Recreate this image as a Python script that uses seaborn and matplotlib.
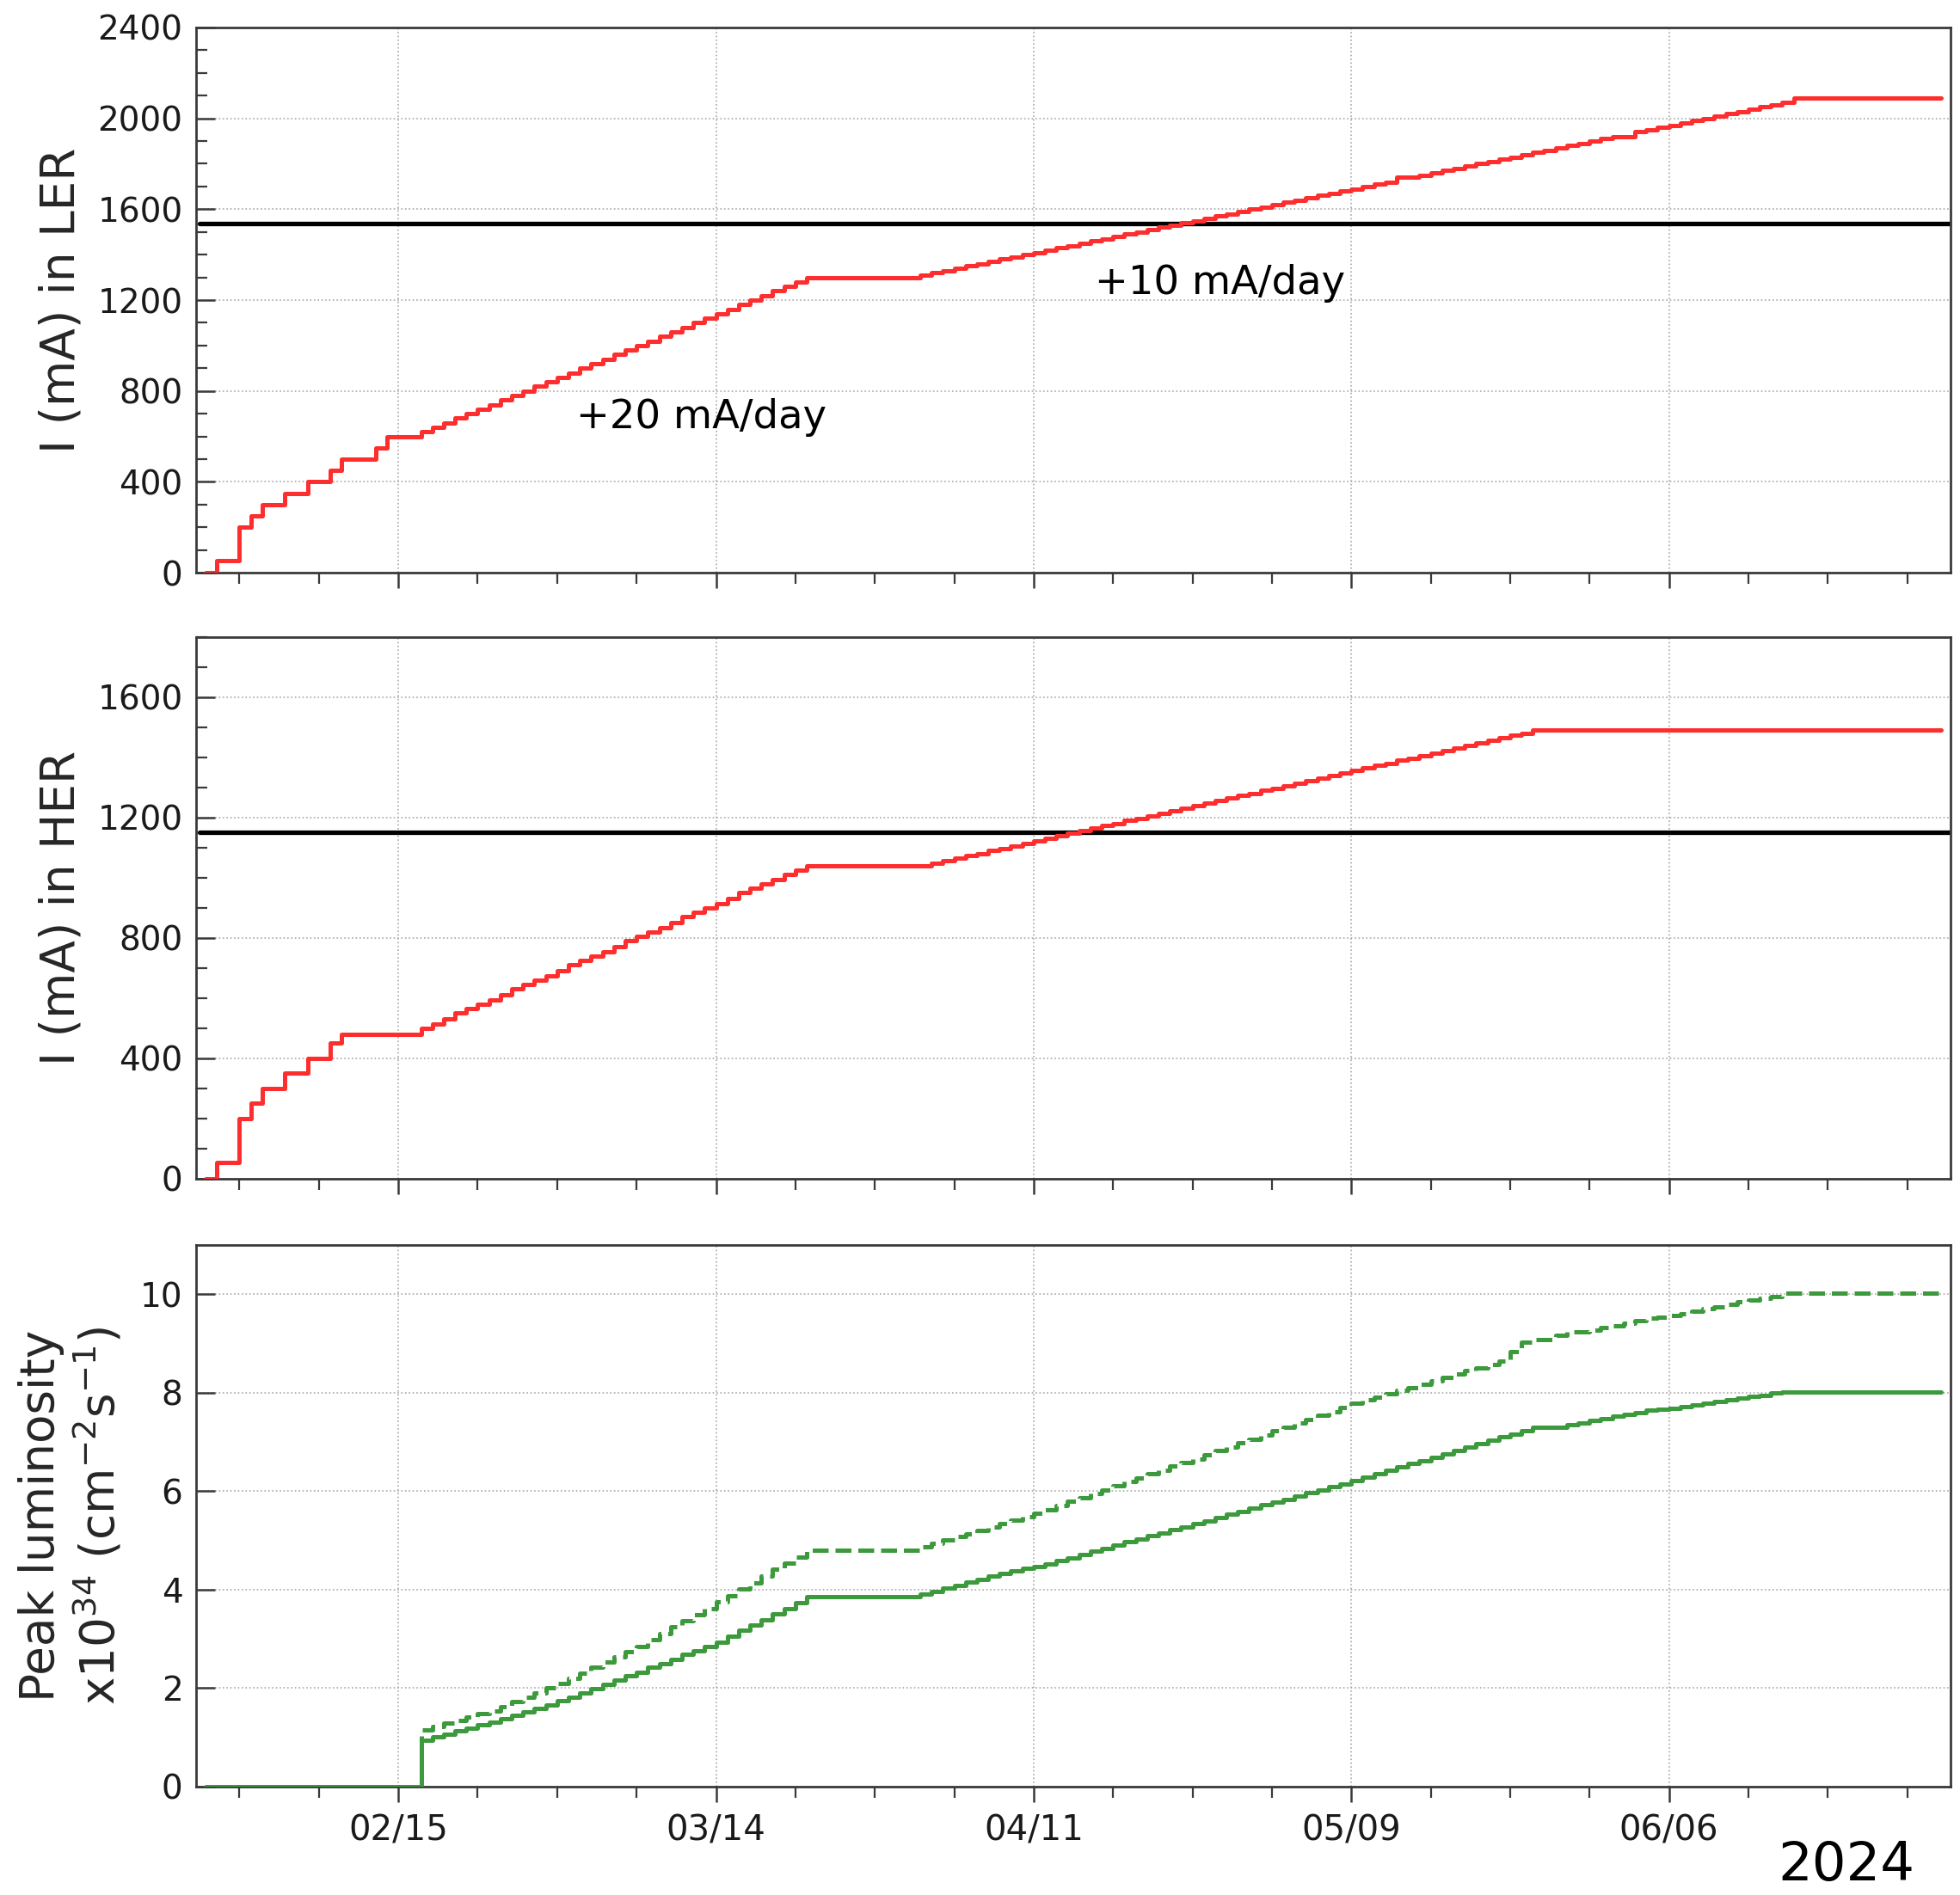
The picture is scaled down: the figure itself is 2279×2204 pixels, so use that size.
import numpy as np
import pandas as pd
import matplotlib
matplotlib.use("Agg")
import matplotlib.pyplot as plt
import matplotlib.dates as mdates
from matplotlib.ticker import MultipleLocator, FixedLocator, NullLocator
import seaborn as sns

# ---------------- data (daily values, first day 2024-01-29) ----------------
START_DATE = "2024-01-29"

ler_current = ([0, 55, 55, 200, 250, 300, 300, 350, 350, 400, 400, 450,
                500, 500, 500, 550, 600, 600, 600,
                620, 640, 660, 680, 700, 720, 740, 760, 780, 800, 820, 840,
                860, 880, 900, 920, 940, 960, 980, 1000, 1020, 1040, 1060,
                1080, 1100, 1120, 1140, 1160, 1180, 1200, 1220, 1240, 1260,
                1280, 1300]
               + [1300] * 9
               + [1310, 1320, 1330, 1340, 1350, 1360, 1370, 1380, 1390, 1400,
                  1410, 1420, 1430, 1440, 1450, 1460, 1470, 1480, 1490, 1500,
                  1510, 1520, 1530, 1540, 1550, 1560, 1570, 1580, 1590, 1600,
                  1610, 1620, 1630, 1640, 1650, 1660, 1670, 1680, 1690, 1700,
                  1710, 1720]
               + [1740, 1740]
               + [1750, 1760, 1770, 1780, 1790, 1800, 1810, 1820, 1830, 1840,
                  1850, 1860, 1870, 1880, 1890, 1900, 1910]
               + [1920, 1920]
               + [1940, 1950, 1960, 1970, 1980, 1990, 2000, 2010, 2020, 2030,
                  2040, 2050, 2060, 2070]
               + [2090] * 14)

her_current = ([0, 55, 55, 200, 250, 300, 300, 350, 350, 400, 400, 450]
               + [480] * 7
               + [500, 515, 530, 550, 565, 580, 595, 610, 630, 645, 660, 675,
                  690, 710, 725, 740, 755, 770, 790, 805, 820, 835, 850, 870,
                  885, 900, 915, 930, 950, 965, 980, 995, 1010, 1025, 1040]
               + [1040] * 10
               + [1048, 1056, 1065, 1073, 1081, 1090, 1098, 1106, 1115, 1123,
                  1131, 1140, 1148, 1156, 1165, 1173, 1181, 1190, 1198, 1206,
                  1215, 1223, 1231, 1240, 1248, 1256, 1265, 1273, 1281, 1290,
                  1298, 1306, 1315, 1323, 1331, 1340, 1348, 1356, 1365, 1373,
                  1381, 1390, 1398, 1406, 1415, 1423, 1431, 1440, 1448, 1456,
                  1465, 1473, 1481, 1490]
               + [1490] * 36)

lumi_solid = ([0.0] * 19
              + [0.95, 1.01, 1.07, 1.13, 1.19, 1.25, 1.31,
                 1.38, 1.45, 1.52, 1.59, 1.66, 1.74,
                 1.82, 1.91, 1.99, 2.08, 2.16, 2.25, 2.33,
                 2.42, 2.50, 2.59, 2.68, 2.76, 2.85, 2.94,
                 3.05, 3.17, 3.28, 3.39, 3.51, 3.62, 3.74, 3.85]
              + [3.85] * 9
              + [3.91, 3.97, 4.03, 4.09, 4.15, 4.21, 4.27, 4.33, 4.39, 4.43, 4.47]
              + [4.53, 4.59, 4.65, 4.72, 4.78, 4.84, 4.90, 4.97, 5.03, 5.09,
                 5.15, 5.22, 5.28, 5.34, 5.40, 5.47, 5.53, 5.59, 5.65, 5.72,
                 5.78, 5.84, 5.90, 5.97, 6.03, 6.09, 6.15, 6.22]
              + [6.29, 6.35, 6.42, 6.49, 6.56, 6.62, 6.69, 6.76, 6.83, 6.89,
                 6.96, 7.03, 7.10, 7.16, 7.23, 7.30]
              + [7.30, 7.30]
              + [7.35, 7.39, 7.43, 7.48, 7.52, 7.56, 7.60, 7.64, 7.66, 7.69]
              + [7.72, 7.76, 7.79, 7.82, 7.86, 7.89, 7.92, 7.95, 7.99, 8.02]
              + [8.02] * 14)

lumi_dashed = ([0.0] * 19
               + [1.16, 1.22, 1.29, 1.35, 1.41, 1.48, 1.54,
                  1.63, 1.72, 1.82, 1.91, 2.00, 2.09,
                  2.20, 2.31, 2.42, 2.53, 2.64, 2.74, 2.85,
                  2.98, 3.11, 3.24, 3.37, 3.49, 3.62, 3.75,
                  3.88, 4.01, 4.14, 4.28, 4.41, 4.54, 4.67, 4.80]
               + [4.80] * 9
               + [4.87, 4.94, 5.01, 5.08, 5.14, 5.21, 5.28, 5.35, 5.42, 5.48, 5.55]
               + [5.63, 5.71, 5.79, 5.87, 5.95, 6.03, 6.11, 6.19, 6.27, 6.35,
                  6.43, 6.51, 6.58, 6.66, 6.74, 6.82, 6.90, 6.98, 7.06, 7.14,
                  7.22, 7.30, 7.38, 7.46, 7.54, 7.62, 7.70, 7.78]
               + [7.85, 7.91, 7.98, 8.05, 8.11, 8.18, 8.25, 8.31, 8.38, 8.45,
                  8.51, 8.58, 8.64, 8.83, 9.02, 9.08, 9.08, 9.16, 9.23, 9.23,
                  9.28, 9.32, 9.36, 9.42, 9.47, 9.52, 9.54, 9.56,
                  9.60, 9.65, 9.70, 9.75, 9.80, 9.85, 9.89, 9.92, 9.96, 10.02]
               + [10.02] * 14)

ler_limit = 1535
her_limit = 1150

tick_dates = ["2024-02-15", "2024-03-14", "2024-04-11", "2024-05-09", "2024-06-06"]
tick_labels = ["02/15", "03/14", "04/11", "05/09", "06/06"]
minor_start, minor_end = "2024-02-01", "2024-06-27"

ler_label = "I (mA) in LER"
her_label = "I (mA) in HER"
lumi_label = "Peak luminosity\n" + r"x10$^{34}$ (cm$^{-2}$s$^{-1}$)"
rate1_text = "+20 mA/day"
rate2_text = "+10 mA/day"
year_text = "2024"

# ---------------- style ----------------
sns.set_theme(style="ticks")
plt.rcParams["font.family"] = ["DejaVu Sans"]
plt.rcParams["mathtext.fontset"] = "dejavusans"

RED = "#ff2e2e"
GREEN = "#3c9a3c"
SPINE = "#3a3a3a"
GRID = "#a8a8a8"
LW = 3.6

fig = plt.figure(figsize=(22.79, 22.04), dpi=100)
L, W = 0.100, 0.895
ax1 = fig.add_axes([L, 0.6978, W, 0.2877])
ax2 = fig.add_axes([L, 0.3780, W, 0.2858], sharex=ax1)
ax3 = fig.add_axes([L, 0.0572, W, 0.2858], sharex=ax1)


def frame(values):
    return pd.DataFrame({
        "date": pd.date_range(START_DATE, periods=len(values), freq="D"),
        "value": values,
    })


sns.lineplot(data=frame(ler_current), x="date", y="value", ax=ax1, color=RED,
             linewidth=LW, drawstyle="steps-post", errorbar=None, zorder=3)
sns.lineplot(data=frame(her_current), x="date", y="value", ax=ax2, color=RED,
             linewidth=LW, drawstyle="steps-post", errorbar=None, zorder=3)
sns.lineplot(data=frame(lumi_dashed), x="date", y="value", ax=ax3, color=GREEN,
             linewidth=LW, linestyle="--", drawstyle="steps-post",
             errorbar=None, zorder=3)
sns.lineplot(data=frame(lumi_solid), x="date", y="value", ax=ax3, color=GREEN,
             linewidth=LW, drawstyle="steps-post", errorbar=None, zorder=3)

ax1.axhline(ler_limit, color="black", linewidth=3.8, zorder=2.5, xmin=0.002)
ax2.axhline(her_limit, color="black", linewidth=3.8, zorder=2.5, xmin=0.002)

# ---------------- axes formatting ----------------
xmin = pd.Timestamp("2024-01-28 04:00")
xmax = pd.Timestamp("2024-06-30 19:00")
ax1.set_xlim(xmin, xmax)

major_locs = mdates.date2num(pd.to_datetime(tick_dates))
minor_locs = mdates.date2num(pd.date_range(minor_start, minor_end, freq="7D"))

ax3.xaxis.set_major_locator(FixedLocator(major_locs))
ax3.xaxis.set_minor_locator(FixedLocator(minor_locs))
ax3.set_xticks(major_locs, labels=tick_labels)

ax1.set_ylim(0, 2400)
ax1.yaxis.set_major_locator(MultipleLocator(400))
ax1.yaxis.set_minor_locator(MultipleLocator(100))
ax2.set_ylim(0, 1800)
ax2.yaxis.set_major_locator(MultipleLocator(400))
ax2.yaxis.set_minor_locator(MultipleLocator(100))
ax3.set_ylim(0, 11)
ax3.yaxis.set_major_locator(MultipleLocator(2))
ax3.yaxis.set_minor_locator(NullLocator())

for ax in (ax1, ax2, ax3):
    ax.set_xlabel("")
    ax.grid(True, which="major", axis="both", linestyle=":", color=GRID,
            linewidth=1.2, zorder=0)
    ax.set_axisbelow(True)
    for s in ax.spines.values():
        s.set_visible(True)
        s.set_color(SPINE)
        s.set_linewidth(2.0)
    ax.tick_params(axis="y", which="major", direction="in", length=16,
                   width=1.8, color=SPINE, labelsize=28, pad=11,
                   labelcolor="#1a1a1a", left=True, right=False)
    ax.tick_params(axis="y", which="minor", direction="in", length=9,
                   width=1.6, color=SPINE, left=True, right=False)
    ax.tick_params(axis="x", which="major", direction="out", length=13,
                   width=1.8, color=SPINE, labelsize=29, pad=10,
                   labelcolor="#1a1a1a", bottom=True, top=False)
    ax.tick_params(axis="x", which="minor", direction="out", length=9,
                   width=1.6, color=SPINE, bottom=True, top=False)

ax1.tick_params(axis="x", which="both", labelbottom=False)
ax2.tick_params(axis="x", which="both", labelbottom=False)
ax3.tick_params(axis="x", which="both", labelbottom=True)

ax1.set_ylabel(ler_label, fontsize=39.5, va="center")
ax1.yaxis.set_label_coords(-0.0765, 0.5)
ax2.set_ylabel(her_label, fontsize=39.5, va="center")
ax2.yaxis.set_label_coords(-0.0765, 0.5)
ax3.set_ylabel(lumi_label, fontsize=39.5, va="center", linespacing=1.2)
ax3.yaxis.set_label_coords(-0.0711, 0.5)

# annotations
ax1.text(pd.Timestamp("2024-03-01 17:00"), 637, rate1_text, fontsize=33.5,
         ha="left", va="baseline", color="black")
ax1.text(pd.Timestamp("2024-04-16 09:00"), 1225, rate2_text, fontsize=33.5,
         ha="left", va="baseline", color="black")
fig.text(2226 / 2279, 1 - 2187 / 2204, year_text, fontsize=45,
         ha="right", va="baseline", color="black")

fig.savefig("out.png", dpi=100, facecolor="white")
